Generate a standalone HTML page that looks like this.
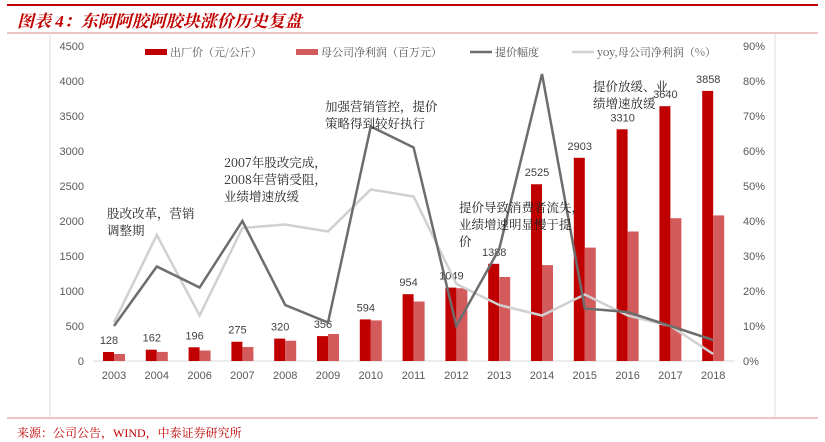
<!DOCTYPE html><html><head><meta charset="utf-8"><style>body{margin:0;background:#fff}svg{display:block}</style></head><body>
<svg width="825" height="442" xmlns="http://www.w3.org/2000/svg" font-family="'Liberation Sans','Noto Sans CJK SC',sans-serif">
<line x1="7" y1="5" x2="818" y2="5" stroke="#c00000" stroke-width="2"/>
<text x="17" y="27" font-size="17" font-style="italic" font-weight="bold" fill="#c00000" font-family="'Liberation Serif','Noto Serif CJK SC',serif">图表 4：东阿阿胶阿胶块涨价历史复盘</text>
<line x1="7" y1="33" x2="818" y2="33" stroke="#e8b0b0" stroke-width="1.5"/>
<line x1="50" y1="33" x2="50" y2="417" stroke="#ddd"/>
<line x1="775" y1="33" x2="775" y2="417" stroke="#ddd"/>
<line x1="7" y1="418" x2="818" y2="418" stroke="#e8b0b0" stroke-width="1.5"/>
<text x="17" y="437" font-size="12" fill="#c00000" font-family="'Liberation Serif','Noto Serif CJK SC',serif">来源：公司公告，WIND，中泰证券研究所</text>
<g font-size="11" fill="#595959" text-anchor="end">
<text x="84" y="50">4500</text><text x="84" y="85">4000</text><text x="84" y="120">3500</text><text x="84" y="155">3000</text><text x="84" y="190">2500</text><text x="84" y="225">2000</text><text x="84" y="260">1500</text><text x="84" y="295">1000</text><text x="84" y="330">500</text><text x="84" y="365">0</text>
</g>
<g font-size="11" fill="#595959">
<text x="743" y="50">90%</text><text x="743" y="85">80%</text><text x="743" y="120">70%</text><text x="743" y="155">60%</text><text x="743" y="190">50%</text><text x="743" y="225">40%</text><text x="743" y="260">30%</text><text x="743" y="295">20%</text><text x="743" y="330">10%</text><text x="743" y="365">0%</text>
</g>
<line x1="93" y1="361" x2="735" y2="361" stroke="#d9d9d9"/>
<g fill="#c00000">
<rect x="103" y="352" width="11" height="9"/>
<rect x="145.8" y="349.7" width="11" height="11.3"/>
<rect x="188.6" y="347.3" width="11" height="13.7"/>
<rect x="231.4" y="341.75" width="11" height="19.25"/>
<rect x="274.2" y="338.6" width="11" height="22.4"/>
<rect x="317" y="336.1" width="11" height="24.9"/>
<rect x="359.8" y="319.4" width="11" height="41.6"/>
<rect x="402.6" y="294.2" width="11" height="66.8"/>
<rect x="445.4" y="287.6" width="11" height="73.4"/>
<rect x="488.2" y="263.8" width="11" height="97.2"/>
<rect x="531" y="184.25" width="11" height="176.75"/>
<rect x="573.8" y="157.8" width="11" height="203.2"/>
<rect x="616.6" y="129.3" width="11" height="231.7"/>
<rect x="659.4" y="106.2" width="11" height="254.8"/>
<rect x="702.2" y="90.9" width="11" height="270.1"/>
</g>
<g fill="#d45b5b">
<rect x="114" y="354" width="11" height="7"/>
<rect x="156.8" y="351.9" width="11" height="9.1"/>
<rect x="199.6" y="350.5" width="11" height="10.5"/>
<rect x="242.4" y="347" width="11" height="14"/>
<rect x="285.2" y="340.7" width="11" height="20.3"/>
<rect x="328" y="334" width="11" height="27"/>
<rect x="370.8" y="320.4" width="11" height="40.6"/>
<rect x="413.6" y="301.5" width="11" height="59.5"/>
<rect x="456.4" y="288.2" width="11" height="72.8"/>
<rect x="499.2" y="277" width="11" height="84"/>
<rect x="542" y="265.1" width="11" height="95.9"/>
<rect x="584.8" y="247.6" width="11" height="113.4"/>
<rect x="627.6" y="231.5" width="11" height="129.5"/>
<rect x="670.4" y="218.2" width="11" height="142.8"/>
<rect x="713.2" y="215.4" width="11" height="145.6"/>
</g>
<g font-size="11" fill="#404040" text-anchor="middle">
<text x="109" y="344">128</text><text x="151.8" y="341.7">162</text><text x="194.6" y="339.3">196</text><text x="237.4" y="333.7">275</text><text x="280.2" y="330.6">320</text><text x="323" y="328.1">356</text><text x="365.8" y="311.4">594</text><text x="408.6" y="286.2">954</text><text x="451.4" y="279.6">1049</text><text x="494.2" y="255.8">1388</text><text x="537" y="176.2">2525</text><text x="579.8" y="149.8">2903</text><text x="622.6" y="121.3">3310</text><text x="665.4" y="98.2">3640</text><text x="708.2" y="82.9">3858</text>
</g>
<g font-size="11" fill="#595959" text-anchor="middle">
<text x="114" y="379">2003</text><text x="156.8" y="379">2004</text><text x="199.6" y="379">2006</text><text x="242.4" y="379">2007</text><text x="285.2" y="379">2008</text><text x="328" y="379">2009</text><text x="370.8" y="379">2010</text><text x="413.6" y="379">2011</text><text x="456.4" y="379">2012</text><text x="499.2" y="379">2013</text><text x="542" y="379">2014</text><text x="584.8" y="379">2015</text><text x="627.6" y="379">2016</text><text x="670.4" y="379">2017</text><text x="713.2" y="379">2018</text>
</g>
<polyline fill="none" stroke="#d0d0d0" stroke-width="2.5" points="114,322.5 156.8,235 199.6,315.5 242.4,228 285.2,224.5 328,231.5 370.8,189.5 413.6,196.5 456.4,284 499.2,305 542,315.5 584.8,294.5 627.6,315.5 670.4,326 713.2,354"/>
<polyline fill="none" stroke="#6d6d6d" stroke-width="2.5" points="114,326 156.8,266.5 199.6,287.5 242.4,221 285.2,305 328,322.5 370.8,126.5 413.6,147.5 456.4,326 499.2,249 542,74 584.8,308.5 627.6,312 670.4,326 713.2,340"/>
<g font-size="11" fill="#555" font-family="'Noto Serif CJK SC',serif">
<rect x="145" y="49" width="22" height="6" fill="#c00000"/><text x="170" y="56">出厂价（元/公斤）</text>
<rect x="296" y="49" width="22" height="6" fill="#d45b5b"/><text x="321" y="56">母公司净利润（百万元）</text>
<line x1="470" y1="52" x2="492" y2="52" stroke="#6d6d6d" stroke-width="2.5"/><text x="495" y="56">提价幅度</text>
<line x1="572" y1="52" x2="594" y2="52" stroke="#d0d0d0" stroke-width="2.5"/><text x="597" y="56">yoy,母公司净利润（%）</text>
</g>
<g font-size="12.5" fill="#222" font-family="'Noto Serif CJK SC',serif">
<text x="107" y="218">股改改革，营销</text><text x="107" y="235">调整期</text>
<text x="224" y="167">2007年股改完成，</text><text x="224" y="184">2008年营销受阻，</text><text x="224" y="201">业绩增速放缓</text>
<text x="325" y="111">加强营销管控，提价</text><text x="325" y="128">策略得到较好执行</text>
<text x="459" y="212">提价导致消费者流失，</text><text x="459" y="229">业绩增速明显慢于提</text><text x="459" y="246">价</text>
<text x="593" y="91">提价放缓、业</text><text x="593" y="108">绩增速放缓</text>
</g>
</svg>
</body></html>
